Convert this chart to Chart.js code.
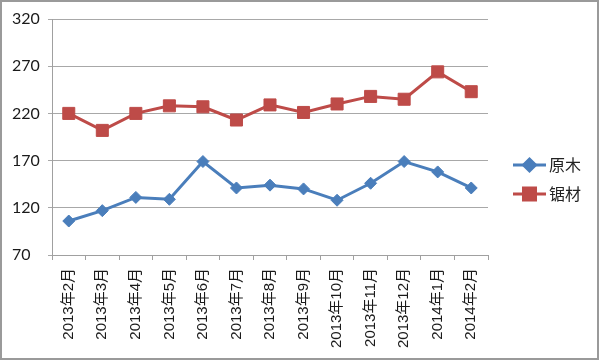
<!DOCTYPE html>
<html>
<head>
<meta charset="utf-8">
<script src="https://cdn.jsdelivr.net/npm/chart.js@4"></script>
<style>
  html, body { margin: 0; padding: 0; background: #fff; }
  #wrap { width: 600px; height: 361px; }
</style>
</head>
<body>
<div id="wrap"><canvas id="chart" width="600" height="361"></canvas></div>
<script>
// months on the x axis
const months = [
  '2013年2月', '2013年3月', '2013年4月', '2013年5月', '2013年6月', '2013年7月',
  '2013年8月', '2013年9月', '2013年10月', '2013年11月', '2013年12月', '2014年1月', '2014年2月'
];
// 原木 (logs)
const logValues = [106, 117, 131, 129, 169, 141, 144, 140, 128, 146, 169, 158, 141];
// 锯材 (sawn timber)
const lumberValues = [220, 202, 220, 228, 227, 213, 229, 221, 230, 238, 235, 264, 243];
const yTicks = [70, 120, 170, 220, 270, 320];

const BLUE = '#4a7ebb';
const RED = '#be4b48';
const LABEL_FONT = "'Liberation Sans', 'Noto Sans CJK SC', sans-serif";

// legend on the right with line + marker samples, and the grey frame
const sideLegend = {
  id: 'sideLegend',
  afterDraw(chart) {
    const ctx = chart.ctx;
    ctx.save();
    ctx.strokeStyle = '#9a9a9a';
    ctx.lineWidth = 2;
    ctx.strokeRect(1, 1, 597, 358);

    const items = chart.data.datasets;
    items.forEach((ds, i) => {
      const y = 165 + i * 29;
      ctx.strokeStyle = ds.borderColor;
      ctx.lineWidth = 3;
      ctx.beginPath();
      ctx.moveTo(513, y);
      ctx.lineTo(546, y);
      ctx.stroke();
      Chart.helpers.drawPoint(ctx, {
        pointStyle: ds.pointStyle,
        radius: ds.pointRadius,
        borderWidth: 1
      }, 529.5, y);
      ctx.fillStyle = ds.backgroundColor;
      ctx.fill();
      ctx.fillStyle = '#222';
      ctx.font = "16px 'Noto Sans CJK SC'";
      ctx.textBaseline = 'middle';
      ctx.textAlign = 'left';
      ctx.fillText(ds.label, 549, y);
    });
    ctx.restore();
  }
};

new Chart(document.getElementById('chart'), {
  type: 'line',
  data: {
    labels: months,
    datasets: [
      {
        label: '原木',
        data: logValues,
        borderColor: BLUE,
        backgroundColor: BLUE,
        borderWidth: 3,
        pointStyle: 'rectRot',
        pointRadius: 6,
        pointBorderWidth: 1,
        tension: 0
      },
      {
        label: '锯材',
        data: lumberValues,
        borderColor: RED,
        backgroundColor: RED,
        borderWidth: 3,
        pointStyle: 'rect',
        pointRadius: 8.5,
        pointBorderWidth: 1,
        tension: 0
      }
    ]
  },
  options: {
    responsive: false,
    animation: false,
    layout: { padding: { left: 12, top: 19, right: 112, bottom: 0 } },
    plugins: {
      legend: { display: false },
      tooltip: { enabled: false }
    },
    scales: {
      x: {
        offset: true,
        grid: { offset: true, drawOnChartArea: false, tickLength: 5, color: '#a0a0a0' },
        border: { color: '#a0a0a0' },
        ticks: {
          minRotation: 90,
          maxRotation: 90,
          autoSkip: false,
          padding: 8,
          color: '#1a1a1a',
          font: { family: LABEL_FONT, size: 15 }
        },
        afterFit(s) { s.height = 106; }
      },
      y: {
        min: yTicks[0],
        max: yTicks[yTicks.length - 1],
        afterBuildTicks(s) { s.ticks = yTicks.map(v => ({ value: v })); },
        grid: { color: '#a8a8a8', tickLength: 4 },
        border: { color: '#a0a0a0' },
        ticks: {
          crossAlign: 'far',
          color: '#1a1a1a',
          font: { family: 'Lato, sans-serif', size: 16 }
        },
        afterFit(s) { s.width = 40; }
      }
    }
  },
  plugins: [sideLegend]
});
</script>
</body>
</html>
